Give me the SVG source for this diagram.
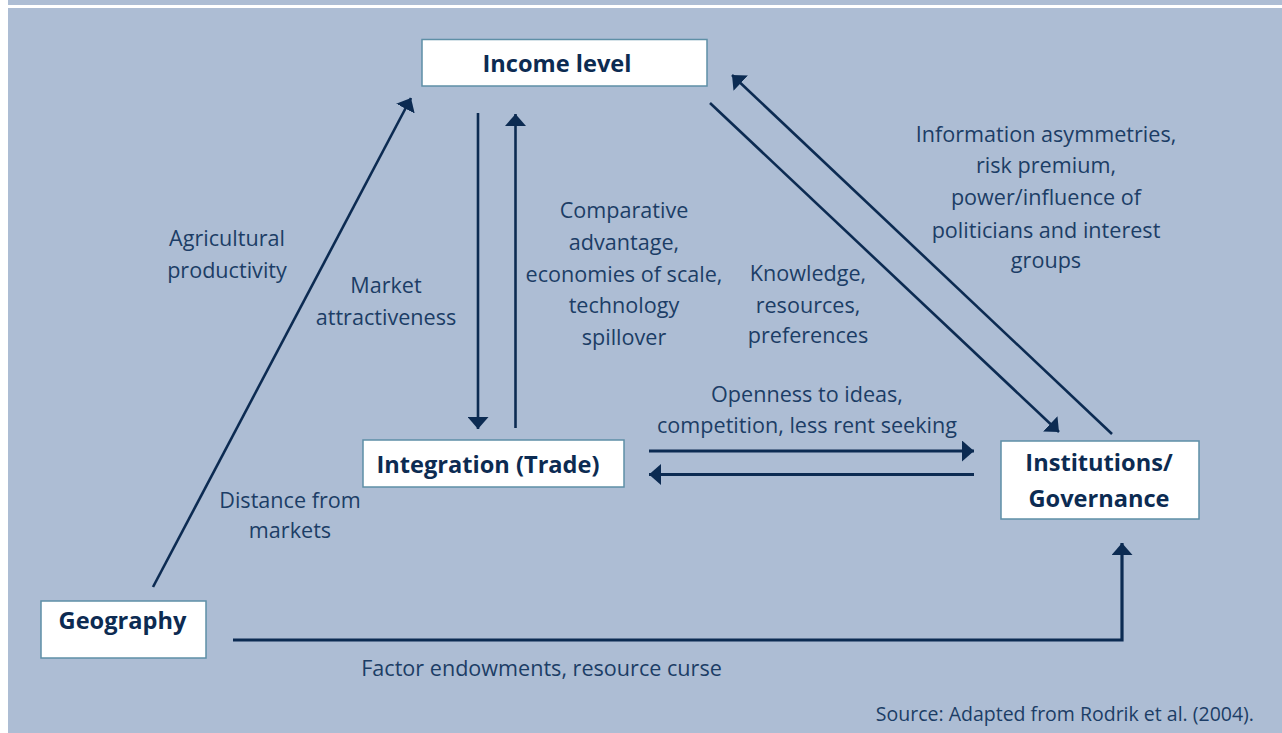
<svg xmlns="http://www.w3.org/2000/svg" width="1282" height="733" viewBox="0 0 1282 733">
  <defs>
    <style>
      .panel { fill: #adbdd4; }
      .box { fill: #ffffff; stroke: #5e8fa6; stroke-width: 1.5; }
      .title { font-family: "Open Sans", "Noto Sans", "Liberation Sans", sans-serif; font-weight: 700; font-size: 23.6px; fill: #0c2b52; text-anchor: middle; }
      .label { font-family: "Open Sans", "Noto Sans", "Liberation Sans", sans-serif; font-weight: 400; font-size: 21.6px; fill: #1c3d66; text-anchor: middle; }
      .source { font-family: "Open Sans", "Noto Sans", "Liberation Sans", sans-serif; font-size: 19.5px; fill: #1c3d66; text-anchor: end; }
      .link { fill: none; stroke: #0c2b52; stroke-width: 2.6; }
      .link.thick { stroke-width: 3.2; }
    </style>
    <marker id="head" markerUnits="userSpaceOnUse" markerWidth="13" markerHeight="21" refX="12" refY="10.5" orient="auto">
      <path d="M0,0 L12,10.5 L0,21 Z" fill="#0c2b52"/>
    </marker>
  </defs>

  <!-- page background -->
  <rect x="0" y="0" width="1282" height="733" fill="#ffffff"/>
  <rect class="panel" x="8" y="0" width="1274" height="5"/>
  <rect class="panel" x="8" y="8" width="1274" height="725"/>

  <!-- connectors -->
  <g id="connectors">
    <line class="link" x1="153" y1="587" x2="411" y2="98" marker-end="url(#head)"/>
    <line class="link" x1="478" y1="113" x2="478" y2="429" marker-end="url(#head)"/>
    <line class="link" x1="515.5" y1="428" x2="515.5" y2="114" marker-end="url(#head)"/>
    <line class="link" x1="710" y1="103" x2="1059" y2="432" marker-end="url(#head)"/>
    <line class="link" x1="1112" y1="434" x2="732" y2="75" marker-end="url(#head)"/>
    <line class="link thick" x1="649" y1="451" x2="974" y2="451" marker-end="url(#head)"/>
    <line class="link thick" x1="974" y1="474.5" x2="649" y2="474.5" marker-end="url(#head)"/>
    <polyline class="link thick" points="233,640 1122,640 1122,543" marker-end="url(#head)"/>
  </g>

  <!-- connector labels -->
  <g id="labels">
    <text class="label" x="227" y="246">Agricultural</text>
    <text class="label" x="227" y="278">productivity</text>

    <text class="label" x="386" y="293">Market</text>
    <text class="label" x="386" y="325">attractiveness</text>

    <text class="label" x="624" y="218">Comparative</text>
    <text class="label" x="624" y="250">advantage,</text>
    <text class="label" x="624" y="281.5">economies of scale,</text>
    <text class="label" x="624" y="313">technology</text>
    <text class="label" x="624" y="345">spillover</text>

    <text class="label" x="808" y="280.5">Knowledge,</text>
    <text class="label" x="808" y="312.5">resources,</text>
    <text class="label" x="808" y="343">preferences</text>

    <text class="label" x="1046" y="141.5">Information asymmetries,</text>
    <text class="label" x="1046" y="173">risk premium,</text>
    <text class="label" x="1046" y="205">power/influence of</text>
    <text class="label" x="1046" y="237.5">politicians and interest</text>
    <text class="label" x="1046" y="268">groups</text>

    <text class="label" x="807" y="401.5">Openness to ideas,</text>
    <text class="label" x="807" y="433">competition, less rent seeking</text>

    <text class="label" x="290" y="508">Distance from</text>
    <text class="label" x="290" y="538">markets</text>

    <text class="label" x="541.5" y="676">Factor endowments, resource curse</text>
  </g>

  <!-- nodes -->
  <g id="node-income">
    <rect class="box" x="422" y="39.5" width="285" height="46.5"/>
    <text class="title" x="557" y="71.5">Income level</text>
  </g>
  <g id="node-integration">
    <rect class="box" x="363" y="440" width="261" height="47"/>
    <text class="title" x="488" y="473">Integration (Trade)</text>
  </g>
  <g id="node-institutions">
    <rect class="box" x="1001" y="441" width="198" height="78"/>
    <text class="title" x="1099" y="471">Institutions/</text>
    <text class="title" x="1099" y="507">Governance</text>
  </g>
  <g id="node-geography">
    <rect class="box" x="41" y="601" width="165" height="57"/>
    <text class="title" x="122.5" y="629">Geography</text>
  </g>

  <text class="source" x="1254" y="721">Source: Adapted from Rodrik et al. (2004).</text>
</svg>
